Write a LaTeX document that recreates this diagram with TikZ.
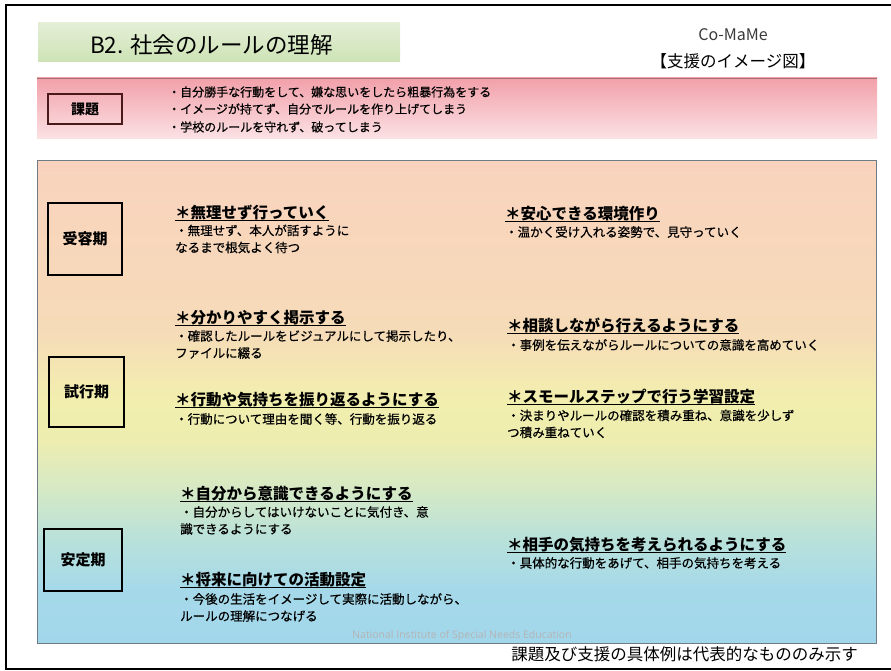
\documentclass[tikz,border=0pt]{standalone}
\usepackage{fontspec}
\setmainfont{Noto Sans CJK JP}
\newfontfamily\bodyfont[FakeBold=0.6]{Noto Sans CJK JP}
\newfontfamily\wmfont{Open Sans}
\definecolor{cb}{HTML}{A2D7EB}
\definecolor{ca}{HTML}{A5D9EA}
\definecolor{cg}{HTML}{B8E1DA}
\definecolor{cgy}{HTML}{D5E9C5}
\definecolor{cy}{HTML}{EDEDB0}
\definecolor{cyy}{HTML}{F2EFAE}
\definecolor{cpy}{HTML}{F6DBB8}
\definecolor{cp}{HTML}{F9D3BE}
\definecolor{pinktop}{HTML}{F2A0A9}
\definecolor{pinkmid}{HTML}{F6BCC2}
\definecolor{pinkbot}{HTML}{FBE2E5}
\definecolor{greentop}{HTML}{E4EFD6}
\definecolor{greenbot}{HTML}{CDE3B5}
\definecolor{boxline}{HTML}{6F7C85}
\definecolor{kadailine}{HTML}{4A1A1A}
\definecolor{headgray}{HTML}{3A3A3A}
\definecolor{wmgray}{HTML}{B4B4B4}
\pgfdeclareverticalshading{mainshade}{100bp}{color(0bp)=(cb); color(25bp)=(cb); color(30.5bp)=(ca); color(35.7bp)=(cg); color(40.9bp)=(cgy); color(46bp)=(cy); color(50.2bp)=(cyy); color(57.5bp)=(cpy); color(75bp)=(cp); color(100bp)=(cp)}
\newsavebox\ulbox
\newcommand\myul[1]{\sbox\ulbox{#1}\rlap{\rule[-3pt]{\wd\ulbox}{1.3pt}}\usebox\ulbox}
\begin{document}
\begin{tikzpicture}[x=1pt,y=-1pt,
  heading/.style={anchor=west,inner sep=0pt,font=\fontsize{15.5}{17}\selectfont\bfseries},
  bodytext/.style={anchor=west,inner sep=0pt,align=left,font=\bodyfont\fontsize{12.5}{17}\selectfont},
  issuetext/.style={anchor=west,inner sep=0pt,font=\bodyfont\fontsize{12}{14}\selectfont},
  phasebox/.style={draw=black,line width=1.2pt,font=\fontsize{15}{17}\selectfont\bfseries},
]
\useasboundingbox (0,0) rectangle (891,671);
\fill[white] (0,0) rectangle (891,671);
% outer frame
\draw[line width=2pt] (891,5) -- (6,5) -- (6,669) -- (891,669);
% title
\shade[top color=greentop,bottom color=greenbot] (38,23) rectangle (400,62);
\node[anchor=west,inner sep=0pt,font=\fontsize{22.5}{25}\selectfont] (title) at (90,45) {B2. 社会のルールの理解};
\node[inner sep=0pt,font=\fontsize{16}{18}\selectfont,text=headgray] (comame) at (733,35) {Co-MaMe};
\node[inner sep=0pt,font=\fontsize{16.5}{19}\selectfont,text=black] (zu) at (733,61) {【支援のイメージ図】};
% pink band
\shade[top color=pinktop,middle color=pinkmid,bottom color=pinkbot] (37,78) rectangle (877,139);
\draw[pinktop!70!black,line width=0.6pt] (37,78) -- (877,78);
\node[draw=kadailine,line width=1.3pt,minimum width=74pt,minimum height=30pt,inner sep=0pt,font=\fontsize{14}{16}\selectfont\bfseries] (kadai) at (85,109) {課題};
\node[issuetext] (iss1) at (168,92) {・自分勝手な行動をして、嫌な思いをしたら粗暴行為をする};
\node[issuetext] (iss2) at (168,109) {・イメージが持てず、自分でルールを作り上げてしまう};
\node[issuetext] (iss3) at (168,127) {・学校のルールを守れず、破ってしまう};
% main box
\shade[shading=mainshade] (37,161) rectangle (876,643);
\draw[boxline,line width=1pt] (37,161) rectangle (876,643);
% phases
\node[phasebox,minimum width=74pt,minimum height=72pt] (p1) at (85,239) {受容期};
\node[phasebox,minimum width=75pt,minimum height=70pt] (p2) at (86.5,392) {試行期};
\node[phasebox,minimum width=78pt,minimum height=62pt] (p3) at (83,560) {安定期};
% accept period
\node[heading] (h1) at (175,213) {\myul{＊無理せず行っていく}};
\node[bodytext] (b1) at (175,239) {・無理せず、本人が話すように\\なるまで根気よく待つ};
\node[heading] (h2) at (505,214) {\myul{＊安心できる環境作り}};
\node[bodytext] (b2) at (505,232) {・温かく受け入れる姿勢で、見守っていく};
% trial period
\node[heading] (h3) at (175,318) {\myul{＊分かりやすく掲示する}};
\node[bodytext] (b3) at (175,344.5) {・確認したルールをビジュアルにして掲示したり、\\ファイルに綴る};
\node[heading] (h4) at (507,326) {\myul{＊相談しながら行えるようにする}};
\node[bodytext] (b4) at (507,345) {・事例を伝えながらルールについての意識を高めていく};
\node[heading] (h5) at (175,400) {\myul{＊行動や気持ちを振り返るようにする}};
\node[bodytext] (b5) at (175,419) {・行動について理由を聞く等、行動を振り返る};
\node[heading] (h6) at (507,397) {\myul{＊スモールステップで行う学習設定}};
\node[bodytext] (b6) at (507,424) {・決まりやルールの確認を積み重ね、意識を少しず\\つ積み重ねていく};
% stable period
\node[heading] (h7) at (180,494) {\myul{＊自分から意識できるようにする}};
\node[bodytext] (b7) at (180,520.5) {・自分からしてはいけないことに気付き、意\\識できるようにする};
\node[heading] (h8) at (507,545) {\myul{＊相手の気持ちを考えられるようにする}};
\node[bodytext] (b8) at (507,563) {・具体的な行動をあげて、相手の気持ちを考える};
\node[heading] (h9) at (180,580) {\myul{＊将来に向けての活動設定}};
\node[bodytext] (b9) at (180,607.5) {・今後の生活をイメージして実際に活動しながら、\\ルールの理解につなげる};
% watermark and footer
\node[inner sep=0pt,font=\wmfont\fontsize{10.5}{12}\selectfont,text=wmgray] (wm) at (462,636) {National Institute of Special Needs Education};
\node[anchor=east,inner sep=0pt,font=\fontsize{16.5}{19}\selectfont] (foot) at (858,654) {課題及び支援の具体例は代表的なもののみ示す};
\end{tikzpicture}
\end{document}
